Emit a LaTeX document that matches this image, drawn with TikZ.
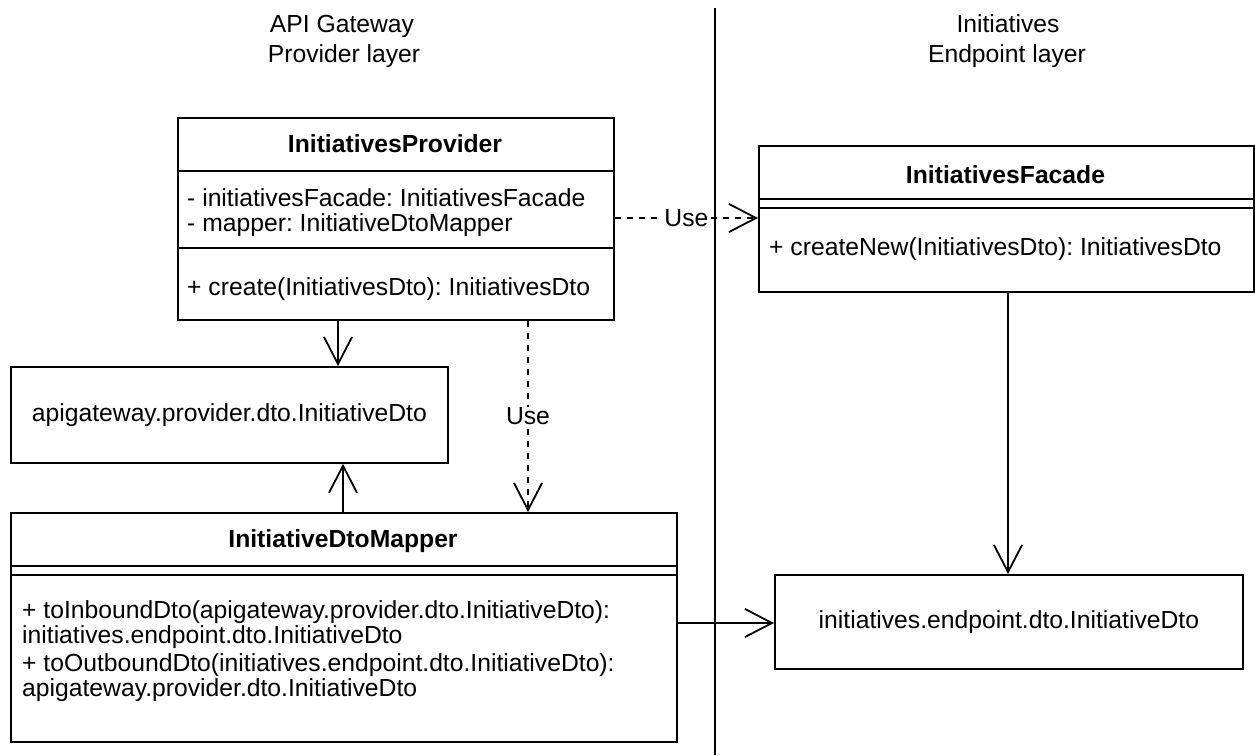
\documentclass[tikz,border=0pt]{standalone}
\usepackage{fontspec}
\setmainfont{Liberation Sans}
\usetikzlibrary{arrows.meta}
\frenchspacing

\tikzset{
  txt/.style={font=\fontsize{24.7}{28}\selectfont, inner sep=0pt},
  ttl/.style={txt, font=\fontsize{24.7}{28}\selectfont\bfseries},
  box/.style={draw, line width=1.8pt, inner sep=0pt, anchor=north west},
  rule/.style={line width=1.8pt},
  assoc/.style={line width=1.8pt, -{Straight Barb[length=27pt, width=28pt, line width=1.8pt]}},
  usedep/.style={assoc, dash pattern=on 6pt off 6pt},
  lbl/.style={txt, fill=white, inner sep=1pt},
}

\begin{document}
\begin{tikzpicture}[x=1pt, y=-1pt]
\useasboundingbox (0,0) rectangle (1255,755);

% layer headings and separator
\node[txt, anchor=base] (hL1) at (342,32) {API Gateway};
\node[txt, anchor=base] (hL2) at (344,62) {Provider layer};
\node[txt, anchor=base] (hR1) at (1008,32) {Initiatives};
\node[txt, anchor=base] (hR2) at (1007,62) {Endpoint layer};
\coordinate (sepTop) at (715,8);
\coordinate (sepBot) at (715,755);
\draw[rule] (sepTop) -- (sepBot);

% InitiativesProvider
\node[box, minimum width=436pt, minimum height=202pt] (prov) at (177,117) {};
\draw[rule] (prov.west |- 0,171) -- (prov.east |- 0,171);
\draw[rule] (prov.west |- 0,248) -- (prov.east |- 0,248);
\node[ttl, anchor=base] (provT) at (395,152) {InitiativesProvider};
\node[txt, anchor=base west] (provA1) at (187,206) {- initiativesFacade: InitiativesFacade};
\node[txt, anchor=base west] (provA2) at (187,231) {- mapper: InitiativeDtoMapper};
\node[txt, anchor=base west] (provM1) at (187,295) {+ create(InitiativesDto): InitiativesDto};

% InitiativesFacade
\node[box, minimum width=495pt, minimum height=146pt] (fac) at (758,145) {};
\draw[rule] (fac.west |- 0,199) -- (fac.east |- 0,199);
\draw[rule] (fac.west |- 0,208) -- (fac.east |- 0,208);
\node[ttl, anchor=base] (facT) at (1005.5,183.5) {InitiativesFacade};
\node[txt, anchor=base west] (facM1) at (769,255.5) {+ createNew(InitiativesDto): InitiativesDto};

% apigateway.provider.dto.InitiativeDto
\node[box, minimum width=437pt, minimum height=96pt] (apidto) at (10,366) {};
\node[txt] (apidtoT) at (apidto.center) {apigateway.provider.dto.InitiativeDto};

% InitiativeDtoMapper
\node[box, minimum width=666pt, minimum height=229pt] (map) at (10,512) {};
\draw[rule] (map.west |- 0,566) -- (map.east |- 0,566);
\draw[rule] (map.west |- 0,575) -- (map.east |- 0,575);
\node[ttl, anchor=base] (mapT) at (343,547.5) {InitiativeDtoMapper};
\node[txt, anchor=base west] (mapM1) at (22,618) {+ toInboundDto(apigateway.provider.dto.InitiativeDto):};
\node[txt, anchor=base west] (mapM2) at (22,643) {initiatives.endpoint.dto.InitiativeDto};
\node[txt, anchor=base west] (mapM3) at (22,671) {+ toOutboundDto(initiatives.endpoint.dto.InitiativeDto):};
\node[txt, anchor=base west] (mapM4) at (22,696) {apigateway.provider.dto.InitiativeDto};

% initiatives.endpoint.dto.InitiativeDto
\node[box, minimum width=468pt, minimum height=94pt] (epdto) at (774,574) {};
\node[txt] (epdtoT) at (epdto.center) {initiatives.endpoint.dto.InitiativeDto};

% connectors
\coordinate (xProvApi) at (338,0);
\coordinate (xMapApi) at (343,0);
\coordinate (xUseMap) at (528,0);
\coordinate (xFacEp) at (1008,0);
\coordinate (yUseFac) at (0,218);
\coordinate (yMapEp) at (0,623);

\draw[assoc] (xProvApi |- prov.south) -- (xProvApi |- apidto.north);
\draw[assoc] (xMapApi |- map.north) -- (xMapApi |- apidto.south);
\draw[usedep] (xUseMap |- prov.south) -- node[lbl] (use1) {Use} (xUseMap |- map.north);
\draw[usedep] (prov.east |- yUseFac) -- node[lbl] (use2) {Use} (fac.west |- yUseFac);
\draw[assoc] (xFacEp |- fac.south) -- (xFacEp |- epdto.north);
\draw[assoc] (map.east |- yMapEp) -- (epdto.west |- yMapEp);
\end{tikzpicture}
\end{document}
